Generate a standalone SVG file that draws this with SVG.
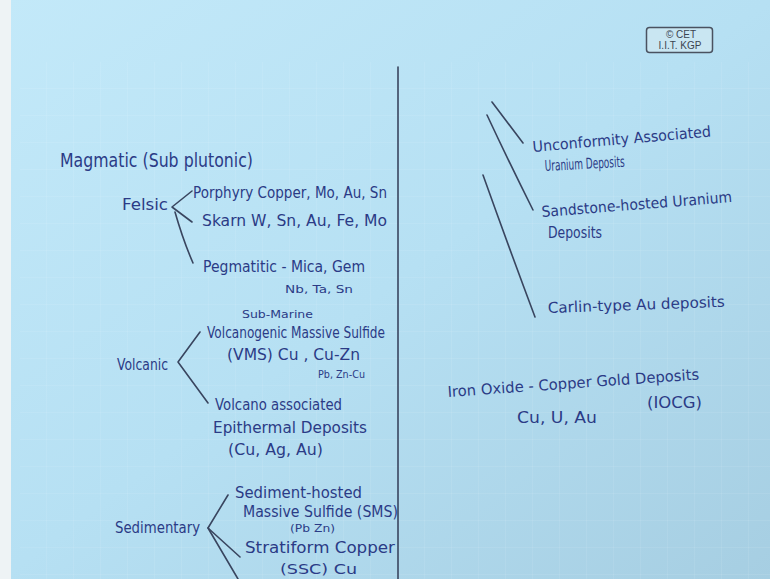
<svg xmlns="http://www.w3.org/2000/svg" width="770" height="579" viewBox="0 0 770 579">
<defs>
<linearGradient id="bg" x1="0" y1="0" x2="1" y2="1">
<stop offset="0" stop-color="#c3e9f9"/>
<stop offset="0.5" stop-color="#b6e0f3"/>
<stop offset="1" stop-color="#a6cee2"/>
</linearGradient>
<pattern id="grid" x="20" y="62" width="27" height="27" patternUnits="userSpaceOnUse">
<path d="M27 0V27M0 27H27" fill="none" stroke="#ffffff" stroke-opacity="0.15" stroke-width="1"/>
</pattern>
<style>
.t{font-family:"DejaVu Sans","Liberation Sans",sans-serif;fill:#2b3b86;font-size:15px;}
.big{font-size:19px;}
.sm{font-size:11px;}
.c{fill:none;stroke:#39455f;stroke-width:1.6;stroke-linecap:round;stroke-linejoin:round;}
.logo{font-family:"Liberation Sans",sans-serif;font-size:10px;fill:#3a4450;text-anchor:middle;}
</style>
</defs>
<rect width="770" height="579" fill="url(#bg)"/>
<rect x="0" y="0" width="11" height="579" fill="#eef3f5"/>
<rect x="20" y="62" width="750" height="517" fill="url(#grid)"/>
<g id="logo">
<rect x="646.5" y="27.5" width="66" height="25" rx="3" fill="#c9e6f2" stroke="#4a5260" stroke-width="1.5"/>
<text class="logo" x="681" y="38">© CET</text>
<text class="logo" x="680" y="49">I.I.T. KGP</text>
</g>
<g id="connectors">
<path class="c" d="M398 67V579"/>
<path class="c" d="M192 191L172 207L192 222"/>
<path class="c" d="M175 212Q183 240 193 263"/>
<path class="c" d="M200 332L178 362L208 403"/>
<path class="c" d="M228 495L208 528L240 557"/>
<path class="c" d="M208 528Q224 555 238 579"/>
<path class="c" d="M492 102L523 143"/>
<path class="c" d="M487 115Q508 160 533 210"/>
<path class="c" d="M483 175Q508 245 535 317"/>
</g>
<g id="magmatic"><text class="t big" x="60" y="167" textLength="193" lengthAdjust="spacingAndGlyphs">Magmatic (Sub plutonic)</text></g>
<g id="felsic"><text class="t" x="122" y="210" style="font-size:16px" textLength="46" lengthAdjust="spacingAndGlyphs">Felsic</text></g>
<g id="porphyry"><text class="t" x="193" y="198" textLength="194" lengthAdjust="spacingAndGlyphs">Porphyry Copper, Mo, Au, Sn</text></g>
<g id="skarn"><text class="t" x="202" y="226" textLength="185" lengthAdjust="spacingAndGlyphs">Skarn  W, Sn, Au, Fe, Mo</text></g>
<g id="pegmatitic">
<text class="t" x="203" y="272" textLength="162" lengthAdjust="spacingAndGlyphs">Pegmatitic - Mica, Gem</text>
<text class="t sm" x="285" y="293" textLength="68" lengthAdjust="spacingAndGlyphs">Nb, Ta, Sn</text>
</g>
<g id="volcanic"><text class="t" x="117" y="370" style="font-size:16px" textLength="51" lengthAdjust="spacingAndGlyphs">Volcanic</text></g>
<g id="vms">
<text class="t sm" x="242" y="318" textLength="71" lengthAdjust="spacingAndGlyphs">Sub-Marine</text>
<text class="t" x="207" y="338" textLength="178" lengthAdjust="spacingAndGlyphs">Volcanogenic Massive Sulfide</text>
<text class="t" x="227" y="360" textLength="133" lengthAdjust="spacingAndGlyphs">(VMS)  Cu ,  Cu-Zn</text>
<text class="t sm" x="318" y="378" textLength="47" lengthAdjust="spacingAndGlyphs">Pb, Zn-Cu</text>
</g>
<g id="epithermal">
<text class="t" x="215" y="410" textLength="127" lengthAdjust="spacingAndGlyphs">Volcano associated</text>
<text class="t" x="213" y="433" textLength="154" lengthAdjust="spacingAndGlyphs">Epithermal  Deposits</text>
<text class="t" x="228" y="455" textLength="95" lengthAdjust="spacingAndGlyphs">(Cu, Ag, Au)</text>
</g>
<g id="sedimentary"><text class="t" x="115" y="533" style="font-size:16px" textLength="85" lengthAdjust="spacingAndGlyphs">Sedimentary</text></g>
<g id="sms">
<text class="t" x="235" y="498" textLength="127" lengthAdjust="spacingAndGlyphs">Sediment-hosted</text>
<text class="t" x="243" y="517" textLength="155" lengthAdjust="spacingAndGlyphs">Massive Sulfide (SMS)</text>
<text class="t sm" x="290" y="532" textLength="45" lengthAdjust="spacingAndGlyphs">(Pb Zn)</text>
</g>
<g id="ssc">
<text class="t" x="245" y="553" textLength="150" lengthAdjust="spacingAndGlyphs">Stratiform Copper</text>
<text class="t" x="280" y="574" style="font-size:14px" textLength="77" lengthAdjust="spacingAndGlyphs">(SSC)  Cu</text>
</g>
<g id="unconformity">
<text class="t" x="533" y="152" transform="rotate(-5 533 152)" textLength="179" lengthAdjust="spacingAndGlyphs">Unconformity Associated</text>
<text class="t" x="545" y="171" transform="rotate(-3 545 171)" textLength="80" lengthAdjust="spacingAndGlyphs">Uranium  Deposits</text>
</g>
<g id="sandstone">
<text class="t" x="542" y="217" transform="rotate(-4.5 542 217)" textLength="191" lengthAdjust="spacingAndGlyphs">Sandstone-hosted Uranium</text>
<text class="t" x="548" y="238" textLength="54" lengthAdjust="spacingAndGlyphs">Deposits</text>
</g>
<g id="carlin"><text class="t" x="548" y="313" transform="rotate(-2 548 313)" textLength="177" lengthAdjust="spacingAndGlyphs">Carlin-type  Au deposits</text></g>
<g id="iocg">
<text class="t" x="448" y="397" transform="rotate(-4 448 397)" textLength="252" lengthAdjust="spacingAndGlyphs">Iron Oxide - Copper  Gold  Deposits</text>
<text class="t" x="647" y="408" textLength="55" lengthAdjust="spacingAndGlyphs">(IOCG)</text>
<text class="t" x="517" y="423" textLength="80" lengthAdjust="spacingAndGlyphs">Cu, U, Au</text>
</g>
</svg>
